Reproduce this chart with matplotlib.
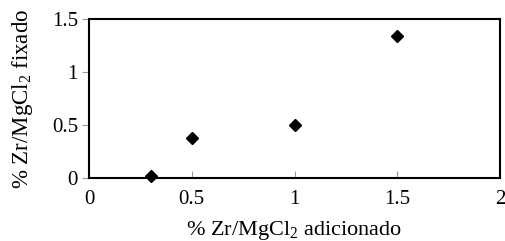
import matplotlib
matplotlib.use('Agg')
import matplotlib.pyplot as plt

x_added = [0.3, 0.5, 1.0, 1.5]
y_fixed = [0.02, 0.38, 0.50, 1.34]
x_ticks = [0, 0.5, 1, 1.5, 2]
x_labels = ['0', '0.5', '1', '1.5', '2']
y_ticks = [0, 0.5, 1, 1.5]
y_labels = ['0', '0.5', '1', '1.5']

plt.rcParams['font.family'] = ['Liberation Serif', 'DejaVu Serif']
plt.rcParams['mathtext.fontset'] = 'custom'
plt.rcParams['mathtext.rm'] = 'Liberation Serif'
plt.rcParams['mathtext.it'] = 'Liberation Serif:italic'

fig = plt.figure(figsize=(5.06, 2.41), dpi=100)
ax = fig.add_axes([89/506, 1 - 178/241, (500-89)/506, (178-19)/241])

ax.plot(x_added, y_fixed, 'D', color='black', ms=6.5, clip_on=False, zorder=3)

ax.set_xlim(0, 2)
ax.set_ylim(0, 1.5)
ax.set_xticks(x_ticks)
ax.set_xticklabels(x_labels, fontsize=15)
ax.set_yticks(y_ticks)
ax.set_yticklabels(y_labels, fontsize=15)
ax.tick_params(axis='x', direction='in', length=5, color='#999999', pad=9)
ax.tick_params(axis='y', direction='out', length=5, color='#999999', pad=3)
for s in ax.spines.values():
    s.set_linewidth(1.5)

ax.set_xlabel('% Zr/MgCl$_\\mathrm{2}$ adicionado', fontsize=16, labelpad=7)
ax.set_ylabel('% Zr/MgCl$_\\mathrm{2}$ fixado', fontsize=16.5, labelpad=12)

fig.savefig('out.png', dpi=100)
